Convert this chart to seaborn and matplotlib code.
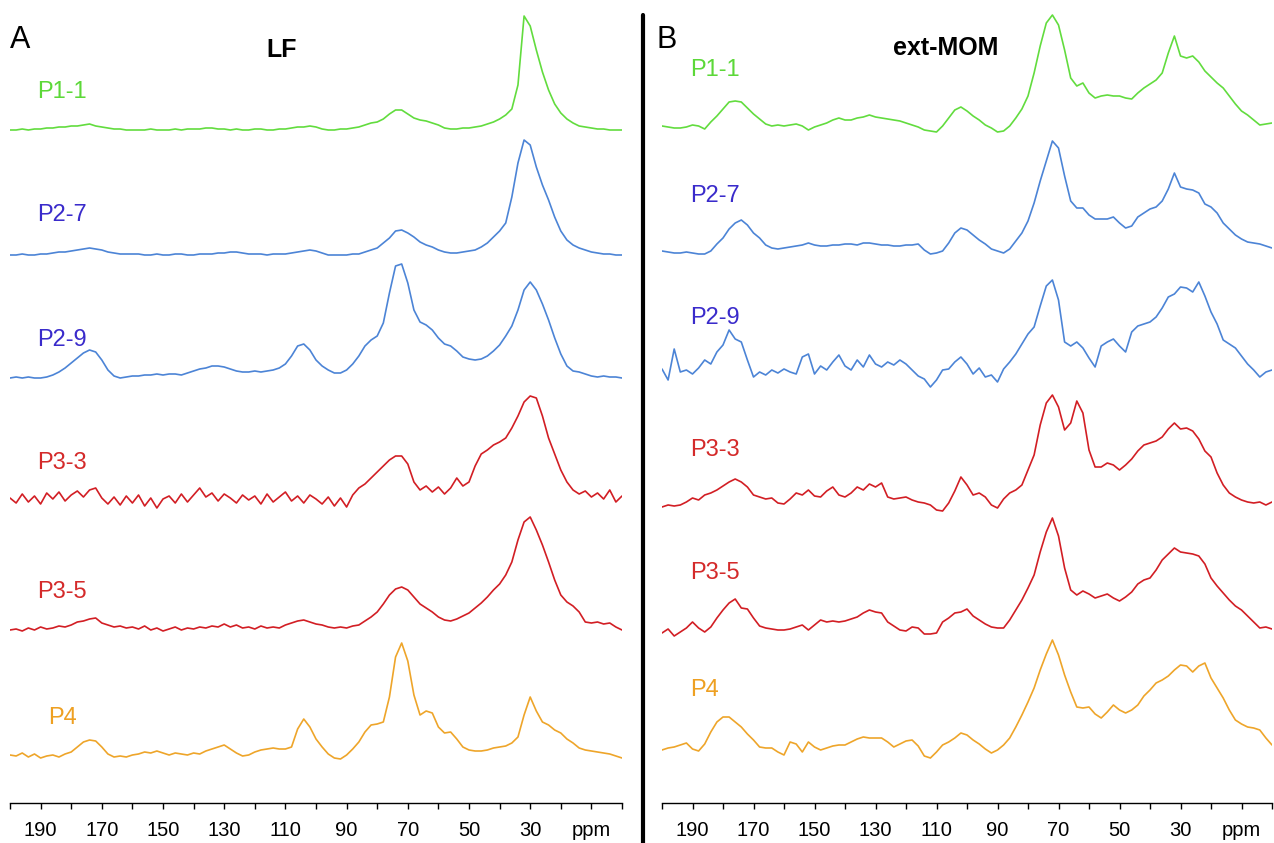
import numpy as np
import pandas as pd
import seaborn as sns
import matplotlib.pyplot as plt
from matplotlib.lines import Line2D
from matplotlib.ticker import FixedLocator

# chemical shift grid (ppm), every 2 ppm from 200 down to 0
ppm = np.arange(200, -1, -2)

samples = ["P1-1", "P2-7", "P2-9", "P3-3", "P3-5", "P4"]

# ---- panel A: LF (intensities, arbitrary units) ----
lf_p1_1 = [0, 0, 1, 0, 1, 1, 2, 2, 3, 3,
           4, 4, 5, 6, 4, 3, 2, 1, 1, 0,
           0, 0, 0, 1, 0, 0, 0, 1, 0, 1,
           1, 1, 2, 2, 1, 1, 0, 1, 0, 0,
           1, 1, 0, 0, 1, 1, 2, 3, 3, 4,
           3, 1, 0, 0, 1, 1, 2, 3, 5, 7,
           8, 11, 16, 20, 20, 16, 12, 10, 9, 7,
           5, 2, 1, 1, 2, 2, 3, 4, 6, 8,
           11, 15, 21, 45, 114, 104, 80, 58, 40, 26,
           17, 11, 7, 4, 3, 2, 1, 1, 0, 0, 0]
lf_p2_7 = [0, 0, 1, 0, 0, 1, 1, 2, 3, 3,
           4, 5, 6, 7, 6, 5, 3, 2, 1, 1,
           1, 1, 0, 0, 1, 0, 0, 1, 1, 0,
           0, 1, 1, 1, 2, 2, 3, 3, 2, 1,
           1, 1, 0, 1, 1, 1, 2, 3, 4, 5,
           4, 2, 0, 0, 0, 0, 1, 1, 3, 5,
           7, 12, 17, 24, 25, 22, 18, 13, 10, 8,
           5, 3, 2, 2, 3, 4, 5, 8, 12, 18,
           24, 32, 58, 92, 115, 110, 88, 70, 55, 38,
           24, 15, 10, 7, 5, 3, 2, 1, 1, 0, 0]
lf_p2_9 = [0, 1, 0, 1, 0, 0, 1, 3, 6, 10,
           15, 20, 25, 28, 26, 18, 8, 2, 0, 1,
           2, 2, 3, 3, 4, 3, 4, 4, 3, 5,
           7, 9, 10, 12, 12, 11, 9, 7, 6, 6,
           7, 6, 7, 8, 10, 14, 22, 32, 34, 28,
           18, 12, 8, 5, 5, 8, 14, 22, 32, 38,
           42, 55, 85, 112, 114, 95, 68, 56, 53, 48,
           40, 34, 32, 27, 21, 19, 18, 19, 22, 27,
           33, 42, 52, 68, 88, 96, 88, 74, 58, 40,
           24, 12, 7, 6, 4, 2, 1, 2, 1, 1, 0]
lf_p3_3 = [2, -3, 6, -2, 4, -4, 7, 1, 8, -1,
           5, 9, 3, 10, 12, 2, -4, 3, -5, 4,
           -3, 5, -6, 2, -8, 1, 4, -3, 6, -2,
           5, 12, 3, 7, -1, 6, 2, -3, 5, 0,
           4, -4, 6, -2, 3, 8, -1, 4, -3, 5,
           1, -4, 3, -6, 2, -7, 5, 12, 16, 22,
           28, 34, 40, 44, 44, 36, 18, 10, 14, 8,
           13, 6, 12, 22, 14, 18, 34, 46, 50, 55,
           58, 62, 72, 84, 98, 104, 102, 84, 62, 46,
           30, 18, 10, 6, 9, 3, 7, 1, 10, -2, 4]
lf_p3_5 = [0, 1, -1, 2, 0, 3, 1, 2, 4, 3,
           5, 8, 9, 11, 12, 7, 5, 3, 4, 2,
           3, 1, 4, 0, 2, -1, 1, 3, 0, 2,
           1, 3, 2, 4, 3, 6, 3, 5, 2, 3,
           1, 4, 2, 3, 2, 5, 7, 9, 10, 8,
           6, 5, 3, 2, 3, 2, 4, 5, 9, 13,
           18, 26, 35, 41, 43, 40, 33, 26, 22, 18,
           13, 10, 9, 11, 14, 17, 22, 27, 33, 40,
           46, 55, 68, 90, 108, 113, 100, 85, 68, 50,
           35, 28, 24, 18, 8, 7, 8, 6, 7, 3, 0]
lf_p4 = [2, 1, 4, 0, 3, -1, 1, 2, 0, 3,
         5, 10, 15, 17, 16, 10, 3, 0, 1, 0,
         2, 3, 5, 4, 6, 4, 2, 4, 3, 2,
         4, 3, 6, 8, 10, 12, 8, 4, 1, 2,
         5, 7, 8, 9, 8, 8, 10, 28, 38, 30,
         18, 10, 3, -1, -2, 2, 8, 15, 25, 32,
         33, 35, 60, 100, 114, 96, 62, 42, 46, 44,
         30, 24, 25, 18, 10, 7, 6, 6, 7, 9,
         10, 11, 14, 20, 42, 60, 46, 35, 32, 27,
         24, 18, 14, 9, 7, 6, 5, 4, 3, 1, -1]

# ---- panel B: ext-MOM ----
mom_p1_1 = [2, 1, 0, 0, 1, 3, 2, -1, 6, 12,
            19, 26, 27, 26, 20, 14, 9, 4, 2, 3,
            2, 3, 4, 2, -2, 1, 3, 5, 8, 10,
            8, 8, 10, 11, 13, 11, 10, 9, 8, 7,
            5, 3, 1, -2, -3, -4, 2, 10, 18, 21,
            17, 12, 8, 3, 0, -4, -3, 2, 10, 19,
            32, 55, 82, 105, 113, 103, 78, 50, 42, 45,
            35, 30, 32, 33, 32, 32, 30, 29, 35, 40,
            44, 48, 55, 75, 92, 72, 70, 72, 66, 57,
            51, 45, 40, 32, 24, 17, 13, 8, 3, 4, 5]
mom_p2_7 = [0, -1, -2, -2, -1, -2, -3, -3, 0, 7,
            13, 22, 28, 31, 26, 18, 13, 6, 3, 2,
            3, 4, 5, 6, 8, 6, 5, 5, 6, 6,
            7, 7, 6, 8, 8, 7, 6, 6, 5, 5,
            6, 6, 7, 1, -3, -2, 0, 8, 18, 23,
            21, 16, 11, 7, 2, 0, -2, 2, 10, 18,
            30, 48, 70, 90, 110, 103, 75, 50, 43, 43,
            36, 32, 32, 32, 34, 28, 23, 25, 34, 38,
            42, 44, 50, 62, 78, 64, 62, 61, 58, 47,
            44, 38, 28, 22, 16, 12, 9, 8, 7, 5, 3]
mom_p2_9 = [3, -8, 23, 0, 2, -2, 4, 12, 8, 20,
            27, 42, 33, 30, 12, -5, 0, -3, 2, -1,
            3, 0, -2, 15, 18, -2, 6, 2, 10, 17,
            6, 2, 12, 5, 17, 8, 5, 10, 7, 12,
            8, 2, -4, -7, -15, -8, 2, 3, 10, 15,
            8, -2, 4, -5, -3, -10, 3, 10, 18, 28,
            38, 45, 66, 86, 92, 72, 30, 26, 30, 24,
            14, 5, 26, 30, 33, 26, 20, 40, 46, 48,
            50, 55, 64, 75, 78, 85, 84, 80, 90, 76,
            60, 48, 32, 28, 24, 16, 8, 2, -5, 0, 2]
mom_p3_3 = [-2, 0, -1, 0, 3, 7, 5, 10, 12, 15,
            19, 23, 26, 23, 18, 10, 8, 6, 7, 2,
            1, 6, 12, 10, 15, 9, 8, 14, 18, 10,
            8, 12, 18, 15, 21, 18, 22, 8, 6, 7,
            8, 5, 3, 2, 0, -5, -6, 2, 14, 28,
            20, 10, 12, 8, 0, -3, 6, 12, 15, 20,
            35, 50, 80, 102, 110, 98, 75, 82, 104, 92,
            55, 38, 38, 42, 40, 35, 40, 46, 54, 60,
            62, 64, 68, 76, 82, 76, 77, 74, 66, 54,
            48, 32, 20, 12, 8, 5, 3, 2, 3, 0, 3]
mom_p3_5 = [-3, 1, -6, -2, 2, 8, 2, -2, 3, 12,
            20, 27, 31, 22, 21, 12, 4, 2, 1, 0,
            0, 1, 3, 5, 0, 5, 10, 8, 9, 8,
            9, 11, 13, 17, 20, 18, 17, 8, 4, 0,
            -1, 3, 2, -4, -4, -3, 8, 12, 17, 18,
            21, 14, 10, 6, 3, 2, 2, 10, 20, 30,
            42, 55, 78, 98, 112, 94, 62, 40, 35, 39,
            36, 32, 34, 36, 32, 29, 33, 38, 46, 50,
            52, 60, 70, 76, 82, 78, 77, 76, 74, 66,
            52, 44, 37, 30, 24, 20, 14, 8, 2, 3, 1]
mom_p4 = [0, 2, 3, 5, 7, 1, -1, 6, 18, 28,
          33, 33, 28, 23, 16, 10, 3, 2, 2, -2,
          -5, 8, 6, -2, 8, 3, 0, 2, 4, 5,
          5, 8, 11, 13, 12, 12, 12, 8, 3, 6,
          9, 10, 4, -6, -8, -2, 5, 8, 12, 17,
          15, 10, 6, 1, -3, 0, 5, 12, 23, 35,
          48, 62, 80, 96, 110, 95, 75, 58, 43, 42,
          43, 36, 32, 38, 45, 40, 37, 40, 45, 54,
          60, 67, 70, 74, 80, 85, 84, 78, 84, 87,
          72, 62, 52, 40, 30, 26, 23, 22, 20, 12, 5]

lf = dict(zip(samples, [lf_p1_1, lf_p2_7, lf_p2_9, lf_p3_3, lf_p3_5, lf_p4]))
mom = dict(zip(samples, [mom_p1_1, mom_p2_7, mom_p2_9, mom_p3_3, mom_p3_5, mom_p4]))

line_colors = {"P1-1": "#62dc3e", "P2-7": "#4c84d6", "P2-9": "#4c84d6",
               "P3-3": "#d21e24", "P3-5": "#d21e24", "P4": "#eea52a"}
label_colors = {"P1-1": "#5cd838", "P2-7": "#3a2bcb", "P2-9": "#3a2bcb",
                "P3-3": "#d42a2a", "P3-5": "#d42a2a", "P4": "#eea022"}

W, H = 1274, 843
AXIS_Y = 803  # pixel row of the ppm axis line

# stacking: pixel row of each trace's baseline, and label anchors
panels = {
    "LF": dict(data=lf, x0=10, x1=622,
               base=[130, 255, 378, 500, 630, 757],
               lab_x=[62, 62, 62, 62, 62, 62],
               lab_y=[92, 215, 340, 463, 592, 718]),
    "ext-MOM": dict(data=mom, x0=662, x1=1272,
                    base=[128, 251, 372, 505, 630, 750],
                    lab_x=[715, 715, 715, 715, 715, 705],
                    lab_y=[70, 196, 318, 450, 573, 690]),
}

rows = []
for pname, p in panels.items():
    for s, vals in p["data"].items():
        rows.append(pd.DataFrame({"ppm": ppm, "intensity": vals,
                                  "sample": s, "panel": pname}))
df = pd.concat(rows, ignore_index=True)

sns.set_style("white")
plt.rcParams["font.family"] = ["Liberation Sans", "DejaVu Sans"]
plt.rcParams["text.color"] = "black"
plt.rcParams["xtick.color"] = "black"
plt.rcParams["xtick.labelcolor"] = "black"

fig = plt.figure(figsize=(W / 100, H / 100), dpi=100)

for pname, p in panels.items():
    ax = fig.add_axes([p["x0"] / W, (H - AXIS_Y) / H,
                       (p["x1"] - p["x0"]) / W, AXIS_Y / H])
    sub = df[df["panel"] == pname]
    for s, b in zip(samples, p["base"]):
        d = sub[sub["sample"] == s].copy()
        d["y"] = d["intensity"] + (AXIS_Y - b)
        sns.lineplot(data=d, x="ppm", y="y", ax=ax, color=line_colors[s],
                     linewidth=1.2, estimator=None, sort=False, legend=False)
    ax.set_xlim(200, 0)
    ax.set_ylim(0, AXIS_Y)
    for side in ("left", "top", "right"):
        ax.spines[side].set_visible(False)
    ax.spines["bottom"].set_color("black")
    ax.spines["bottom"].set_linewidth(1.0)
    ax.set_yticks([])
    ax.set_xlabel("")
    ax.set_ylabel("")
    ticks = list(range(0, 201, 10))
    labels = []
    for t in ticks:
        if t == 10:
            labels.append("ppm")
        elif t >= 30 and (t // 10) % 2 == 1:
            labels.append(str(t))
        else:
            labels.append("")
    ax.set_xticks(ticks)
    ax.set_xticklabels(labels, fontsize=14.5, color="black")
    ax.xaxis.set_minor_locator(FixedLocator([0, 50, 100, 150, 200]))
    ax.tick_params(axis="x", which="major", direction="out", length=4,
                   width=1, color="black", pad=9, bottom=True)
    ax.tick_params(axis="x", which="minor", direction="out", length=7,
                   width=1, color="black", bottom=True)
    ax.patch.set_alpha(0)

    for s, lx, ly in zip(samples, p["lab_x"], p["lab_y"]):
        fig.text(lx / W, 1 - ly / H, s, color=label_colors[s], fontsize=17,
                 ha="center", va="center")

# panel letters and titles
fig.text(20 / W, 1 - 40 / H, "A", fontsize=22, color="black",
         ha="center", va="center")
fig.text(282 / W, 1 - 50 / H, "LF", fontsize=18, fontweight="bold",
         color="black", ha="center", va="center")
fig.text(667 / W, 1 - 40 / H, "B", fontsize=22, color="black",
         ha="center", va="center")
fig.text(946 / W, 1 - 48 / H, "ext-MOM", fontsize=18, fontweight="bold",
         color="black", ha="center", va="center")

# thick divider between the panels
fig.add_artist(Line2D([643 / W, 643 / W], [0, 1 - 15 / H],
                      transform=fig.transFigure, color="black", linewidth=3))

fig.savefig("out.png", dpi=100)
